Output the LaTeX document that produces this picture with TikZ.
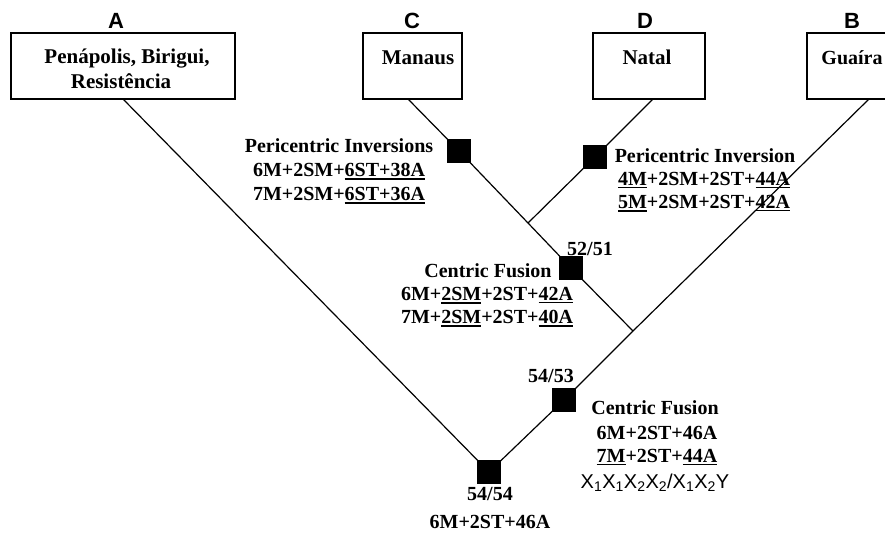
\documentclass[tikz,border=0pt]{standalone}
\usepackage{fontspec}
\setmainfont{Liberation Serif}
\newfontfamily\arialfont{Liberation Sans}
\newcommand{\ulx}[1]{\vtop{\hbox{#1}\kern1.8pt\hrule height 1.6pt}}
\begin{document}
\begin{tikzpicture}[x=1pt,y=-1pt,line width=1.2pt,
  boxnode/.style={draw,line width=1.3pt,inner sep=0pt},
  sqnode/.style={fill=black,draw=none,minimum size=22pt,inner sep=0pt},
  txt/.style={anchor=base,inner sep=0pt,font=\fontsize{20}{24}\selectfont\bfseries},
  boxtxt/.style={anchor=base,inner sep=0pt,font=\fontsize{21}{25}\selectfont\bfseries},
  lbl/.style={anchor=base,inner sep=0pt,font=\fontsize{22}{26}\selectfont\arialfont\bfseries},
  xtxt/.style={anchor=base,inner sep=0pt,font=\fontsize{20}{24}\selectfont\arialfont},
  branch/.style={line width=1.2pt}]
\useasboundingbox (0,0) rectangle (885,533);
\clip (0,0) rectangle (885,533);
\fill[white] (0,0) rectangle (885,533);

% boxes
\node[boxnode,minimum width=224pt,minimum height=66pt] (boxA) at (123,66) {};
\node[boxnode,minimum width=99pt,minimum height=66pt] (boxC) at (412.5,66) {};
\node[boxnode,minimum width=112pt,minimum height=66pt] (boxD) at (649,66) {};
\node[boxnode,minimum width=122pt,minimum height=66pt] (boxB) at (868,66) {};

% box labels
\node[lbl] (labA) at (116,28) {A};
\node[lbl] (labC) at (412,28) {C};
\node[lbl] (labD) at (645,28) {D};
\node[lbl] (labB) at (852,28) {B};

% box texts
\node[boxtxt] (tA1) at (127,63) {Penápolis, Birigui,};
\node[boxtxt] (tA2) at (121,88) {Resistência};
\node[boxtxt] (tC) at (418,64) {Manaus};
\node[boxtxt] (tD) at (647,64) {Natal};
\node[txt] (tB) at (852,64) {Guaíra};

% branch points
\coordinate (Ab) at (123,99);
\coordinate (Cb) at (408,99);
\coordinate (Db) at (653,99);
\coordinate (Bb) at (869,99);
\coordinate (J1) at (528,223);
\coordinate (J2) at (633,331);

% squares
\node[sqnode] (sqC) at (459,151) {};
\node[sqnode] (sqD) at (595,157) {};
\node[sqnode] (sqF1) at (571,268) {};
\node[sqnode] (sqF2) at (564,400) {};
\node[sqnode] (root) at (489,472) {};

% branches
\draw[branch] (Ab) -- (root.center);
\draw[branch] (Cb) -- (sqC.center) -- (J1) -- (sqF1.center) -- (J2);
\draw[branch] (Db) -- (sqD.center) -- (J1);
\draw[branch] (Bb) -- (J2) -- (sqF2.center) -- (root.center);

% redraw squares on top
\fill (sqC.south west) rectangle (sqC.north east);
\fill (sqD.south west) rectangle (sqD.north east);
\fill (sqF1.south west) rectangle (sqF1.north east);
\fill (sqF2.south west) rectangle (sqF2.north east);
\fill (root.south west) rectangle (root.north east);

% left block
\node[txt] (l1) at (339,152) {Pericentric Inversions};
\node[txt] (l2) at (339,176) {6M+2SM+\ulx{6ST+38A}};
\node[txt] (l3) at (339,200) {7M+2SM+\ulx{6ST+36A}};

% right block
\node[txt] (r1) at (705,162) {Pericentric Inversion};
\node[txt] (r2) at (704,185) {\ulx{4M}+2SM+2ST+\ulx{44A}};
\node[txt] (r3) at (704,208) {\ulx{5M}+2SM+2ST+\ulx{42A}};

% middle centric fusion
\node[txt] (n5251) at (590,255) {52/51};
\node[txt] (m1) at (488,277) {Centric Fusion};
\node[txt] (m2) at (487,300) {6M+\ulx{2SM}+2ST+\ulx{42A}};
\node[txt] (m3) at (487,323) {7M+\ulx{2SM}+2ST+\ulx{40A}};

% lower centric fusion
\node[txt] (n5453) at (551,382) {54/53};
\node[txt] (c1) at (655,414) {Centric Fusion};
\node[txt] (c2) at (657,439) {6M+2ST+46A};
\node[txt] (c3) at (657,462) {\ulx{7M}+2ST+\ulx{44A}};
\node[xtxt] (c4) at (655,488) {X\textsubscript{1}X\textsubscript{1}X\textsubscript{2}X\textsubscript{2}/X\textsubscript{1}X\textsubscript{2}Y};

% root
\node[txt] (n5454) at (490,500) {54/54};
\node[txt] (rk) at (490,528) {6M+2ST+46A};
\end{tikzpicture}
\end{document}
